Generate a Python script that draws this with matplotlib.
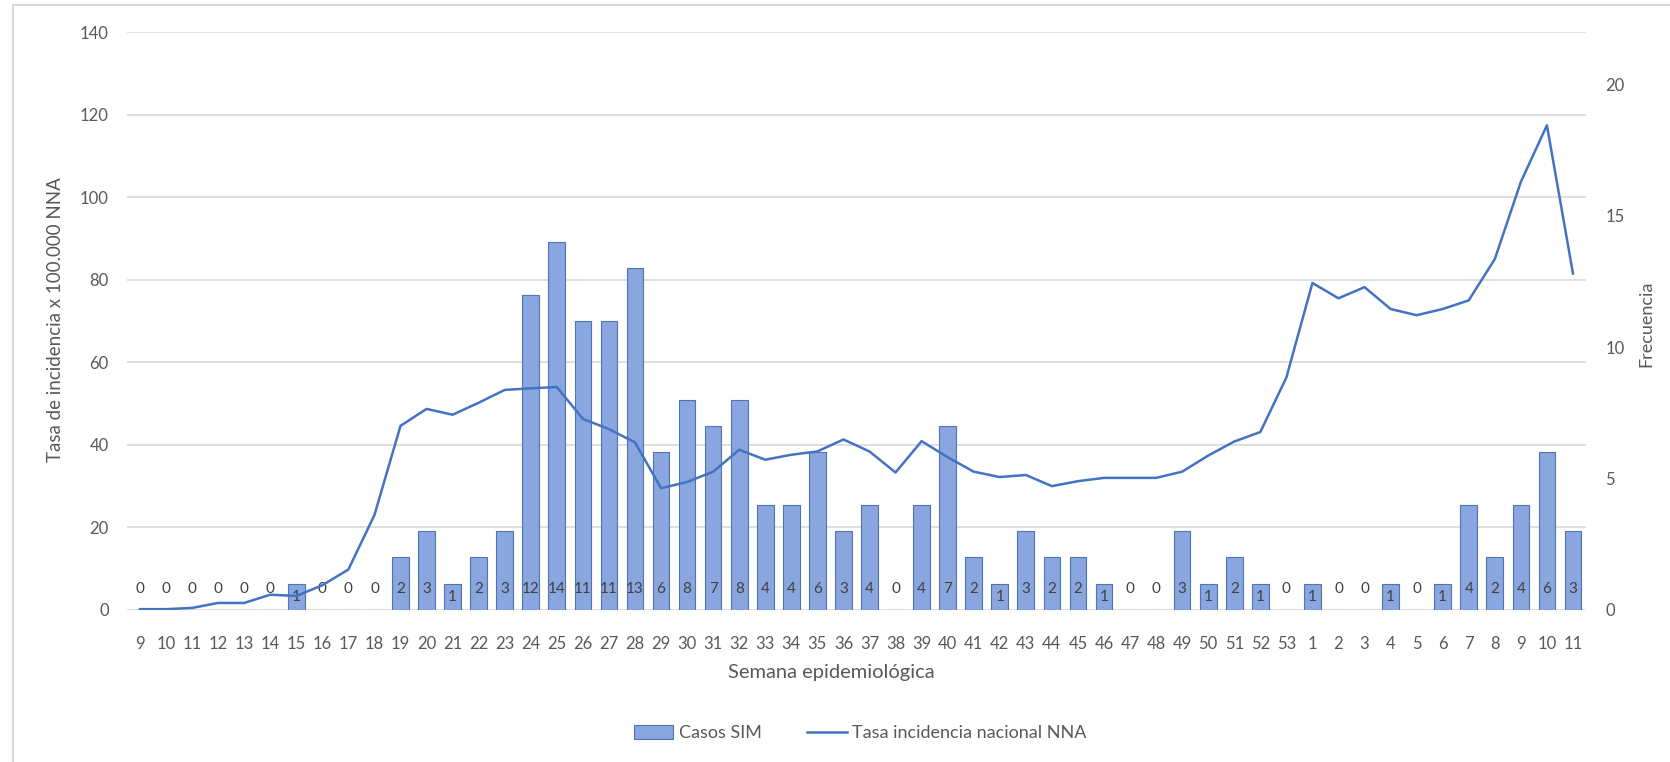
import matplotlib.pyplot as plt
import numpy as np
from matplotlib.patches import Patch
from matplotlib.lines import Line2D

plt.rcParams['font.family'] = ['Lato', 'DejaVu Sans']

# semanas epidemiológicas (9 a 53, luego 1 a 11 del año siguiente)
semanas = [str(s) for s in list(range(9, 54)) + list(range(1, 12))]

casos_sim = [0, 0, 0, 0, 0, 0, 1, 0, 0, 0,
             2, 3, 1, 2, 3, 12, 14, 11, 11, 13,
             6, 8, 7, 8, 4, 4, 6, 3, 4, 0,
             4, 7, 2, 1, 3, 2, 2, 1, 0, 0,
             3, 1, 2, 1, 0,
             1, 0, 0, 1, 0, 1, 4, 2, 4, 6, 3]

tasa_nna = [0.2, 0.2, 0.5, 1.7, 1.7, 3.7, 3.4, 6.0, 9.8, 23.0,
            44.6, 48.7, 47.3, 50.2, 53.3, 53.7, 54.0, 46.3, 43.8, 40.6,
            29.5, 31.0, 33.5, 38.8, 36.4, 37.6, 38.4, 41.3, 38.4, 33.3,
            40.9, 37.0, 33.5, 32.2, 32.7, 30.0, 31.2, 32.0, 32.0, 32.0,
            33.5, 37.4, 40.8, 43.1, 56.3,
            79.2, 75.5, 78.2, 72.9, 71.4, 72.9, 75.0, 85.0, 103.7, 117.4, 81.5]

TASA_MAX = 140
FREC_MAX = 22
gris = '#595959'
azul = '#4472c4'
relleno = '#8aa6de'

fig = plt.figure(figsize=(16.7, 7.62), dpi=100)
ax = fig.add_axes([0.076, 0.1995, 0.8737, 0.7585])
ax_r = ax.twinx()

x = np.arange(len(semanas))

# barras en el eje derecho (frecuencia)
ax_r.bar(x, casos_sim, width=0.64, color=relleno, edgecolor='#4f72b8', linewidth=0.8, zorder=3)
for xi, v in zip(x, casos_sim):
    ax_r.text(xi, min(0.78, v / 2) if v > 0 else 0.78, str(v), ha='center', va='center',
              fontsize=11, color='#404040', zorder=4)

# líneas de cuadrícula según el eje izquierdo
for t in range(0, TASA_MAX + 1, 20):
    ax_r.axhline(t * FREC_MAX / TASA_MAX, color='#d9d9d9', lw=1.2, zorder=1)

ax_r.set_ylim(0, FREC_MAX)
ax_r.set_yticks([0, 5, 10, 15, 20])

# línea de tasa en el eje izquierdo, dibujada encima
ax.set_zorder(ax_r.get_zorder() + 1)
ax.patch.set_visible(False)
ax.plot(x, tasa_nna, color=azul, lw=1.8, zorder=5)
ax.set_ylim(0, TASA_MAX)
ax.set_yticks(range(0, TASA_MAX + 1, 20))
ax.set_xlim(-0.5, len(semanas) - 0.5)
ax.set_xticks(x)
ax.set_xticklabels(semanas)

for a in (ax, ax_r):
    for s in a.spines.values():
        s.set_visible(False)
ax.tick_params(axis='both', length=0, colors=gris, labelsize=12)
ax.tick_params(axis='y', pad=13)
ax.tick_params(axis='x', pad=19)
ax_r.tick_params(axis='y', length=0, colors=gris, labelsize=12, pad=14)

fig.text(0.0335, 0.58, 'Tasa de incidencia x 100.000 NNA', rotation=90,
         ha='center', va='center', fontsize=13.5, color=gris)
fig.text(0.986, 0.575, 'Frecuencia', rotation=90,
         ha='center', va='center', fontsize=13, color=gris)
fig.text(0.498, 0.117, 'Semana epidemiológica', ha='center', va='center',
         fontsize=14.5, color=gris)

handles = [Patch(facecolor=relleno, edgecolor='#4f72b8', linewidth=0.8),
           Line2D([0], [0], color=azul, lw=1.8)]
fig.legend(handles, ['Casos SIM', 'Tasa incidencia nacional NNA'],
           loc='center', bbox_to_anchor=(0.515, 0.038), ncol=2, frameon=False,
           fontsize=13, labelcolor=gris, handlelength=2.2, handleheight=0.8,
           columnspacing=2.5, handletextpad=0.3)

# marco del gráfico
fig.add_artist(Line2D([13 / 1670, 13 / 1670], [0, 1 - 5 / 762], color='#d9d9d9', lw=1.5))
fig.add_artist(Line2D([13 / 1670, 1], [1 - 5 / 762, 1 - 5 / 762], color='#d9d9d9', lw=1.5))

fig.savefig('out.png', dpi=100)
